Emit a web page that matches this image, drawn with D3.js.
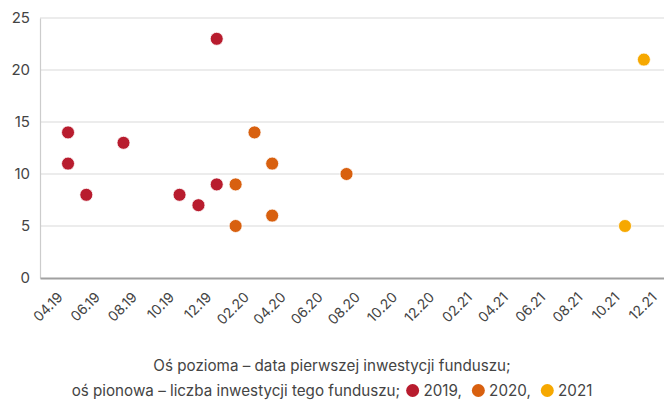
<!DOCTYPE html>
<html>
<head>
<meta charset="utf-8">
<script src="https://cdn.jsdelivr.net/npm/d3@7"></script>
<style>
  html, body { margin: 0; padding: 0; background: #fff; }
  svg { display: block; font-family: Inter, "Noto Sans", sans-serif; }
  text { white-space: pre; }
</style>
</head>
<body>
<svg id="chart" width="664" height="400"></svg>
<script>
// First-investment month of each fund and the number of its investments
const funds2019 = [
  ["2019-04", 14], ["2019-04", 11], ["2019-05", 8], ["2019-07", 13],
  ["2019-10", 8], ["2019-11", 7], ["2019-12", 23], ["2019-12", 9]
];
const funds2020 = [
  ["2020-01", 9], ["2020-01", 5], ["2020-02", 14], ["2020-03", 11],
  ["2020-03", 6], ["2020-07", 10]
];
const funds2021 = [
  ["2021-10", 5], ["2021-11", 21]
];
const seriesNames = ["2019", "2020", "2021"];
const seriesColors = ["#b81c2e", "#d8600f", "#f6a800"];
const yTicks = [0, 5, 10, 15, 20, 25];
const captionLine1 = "Oś pozioma – data pierwszej inwestycji funduszu;";
const captionLine2 = "oś pionowa – liczba inwestycji tego funduszu;";

const series = [funds2019, funds2020, funds2021];
const parseMonth = d3.timeParse("%Y-%m");

const svg = d3.select("#chart");
const plotLeft = 40, plotRight = 664, plotTop = 18, plotBottom = 278;

const x = d3.scaleTime()
  .domain([new Date(2019, 1, 14), new Date(2021, 11, 4)])
  .range([plotLeft, plotRight]);
const y = d3.scaleLinear().domain([0, 25]).range([plotBottom, plotTop]);

// horizontal grid
svg.append("g")
  .selectAll("line")
  .data(yTicks.filter(t => t > 0))
  .join("line")
  .attr("x1", plotLeft).attr("x2", plotRight)
  .attr("y1", d => y(d)).attr("y2", d => y(d))
  .attr("stroke", "#e6e6e6").attr("stroke-width", 1.5);

// y axis
const yAxis = svg.append("g")
  .attr("transform", `translate(${plotLeft},0)`)
  .call(d3.axisLeft(y).tickValues(yTicks).tickSize(0).tickPadding(10));
yAxis.select(".domain").attr("stroke", "#cccccc").attr("stroke-width", 1.2);
yAxis.selectAll("text").attr("font-size", 15).attr("fill", "#444")
  .attr("font-family", "Inter, sans-serif");

// x axis: every second month starting from April 2019
const xTicks = d3.timeMonth.range(new Date(2019, 3, 1), new Date(2022, 0, 2), 2);
const xAxis = svg.append("g")
  .attr("transform", `translate(0,${plotBottom})`)
  .call(d3.axisBottom(x).tickValues(xTicks).tickSize(0).tickFormat(d3.timeFormat("%m.%y")));
xAxis.select(".domain").attr("stroke", "#a0a0a0").attr("stroke-width", 2);
xAxis.selectAll("text")
  .attr("font-size", 14).attr("fill", "#444")
  .attr("font-family", "Inter, sans-serif")
  .attr("text-anchor", "end")
  .attr("dy", 0)
  .attr("transform", "translate(-7,18) rotate(-45)");

// points
series.forEach((data, i) => {
  svg.append("g")
    .selectAll("circle")
    .data(data)
    .join("circle")
    .attr("cx", d => x(parseMonth(d[0])))
    .attr("cy", d => y(d[1]))
    .attr("r", 6.5)
    .attr("fill", seriesColors[i])
    .attr("stroke", "#fff").attr("stroke-width", 0.8);
});

// caption with inline legend
const cx = 332;
svg.append("text")
  .attr("x", cx).attr("y", 370.5)
  .attr("text-anchor", "middle")
  .attr("font-size", 15.2).attr("fill", "#444")
  .text(captionLine1);

const line2 = svg.append("g");
let cursor = 0;
const addText = (t) => {
  const el = line2.append("text").attr("y", 396).attr("font-size", 15.2)
    .attr("fill", "#444").attr("x", cursor).text(t);
  cursor += el.node().getComputedTextLength();
};
addText(captionLine2);
seriesNames.forEach((name, i) => {
  cursor += i === 0 ? 6 : 10;
  line2.append("circle").attr("cx", cursor + 6.5).attr("cy", 390.5)
    .attr("r", 6.5).attr("fill", seriesColors[i]);
  cursor += 13;
  addText(" " + name + (i < seriesNames.length - 1 ? "," : ""));
});
line2.attr("transform", `translate(${cx - cursor / 2},0)`);
</script>
</body>
</html>
